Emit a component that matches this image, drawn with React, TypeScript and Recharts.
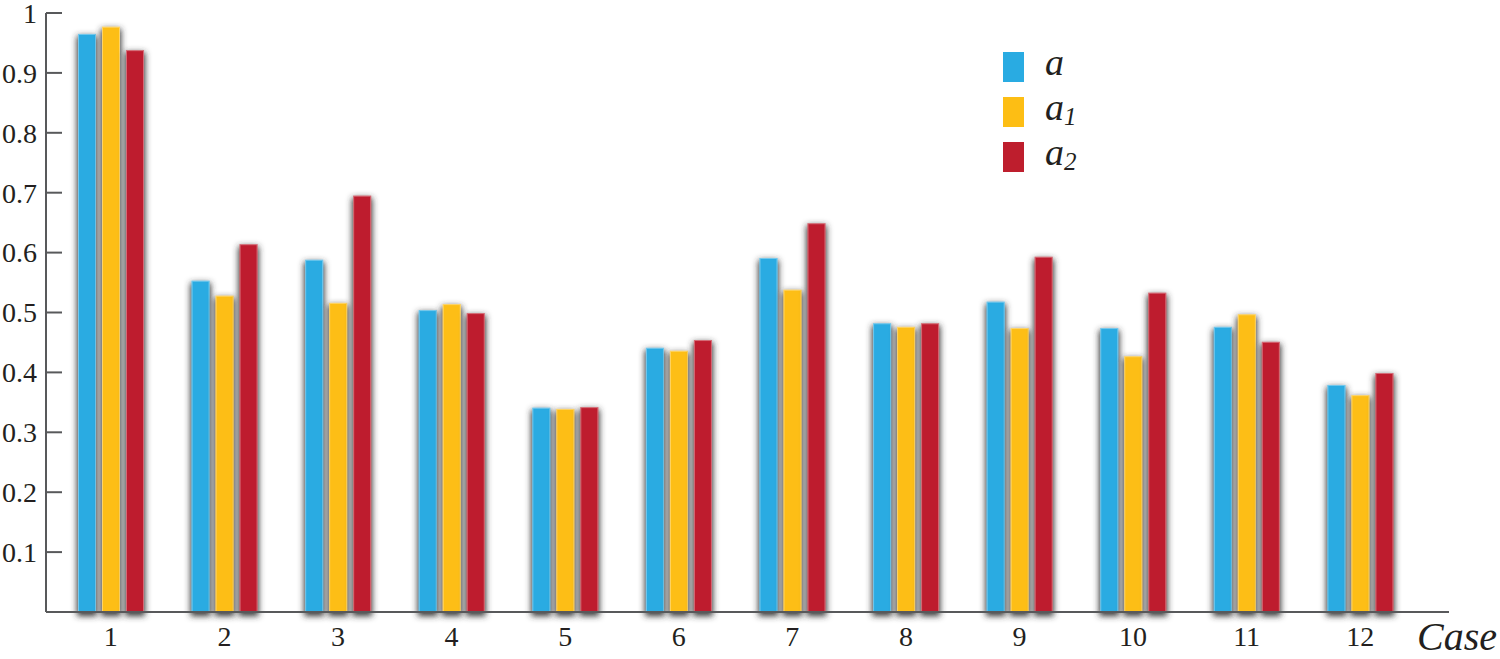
import React from 'react';
import { BarChart, Bar, XAxis, YAxis, Legend, Label } from 'recharts';

const cases = ['1', '2', '3', '4', '5', '6', '7', '8', '9', '10', '11', '12'];
const aValues = [0.965, 0.553, 0.588, 0.504, 0.341, 0.441, 0.591, 0.482, 0.518, 0.474, 0.476, 0.379];
const a1Values = [0.977, 0.528, 0.516, 0.514, 0.339, 0.436, 0.538, 0.476, 0.474, 0.427, 0.497, 0.362];
const a2Values = [0.938, 0.614, 0.695, 0.499, 0.342, 0.454, 0.649, 0.482, 0.593, 0.533, 0.451, 0.399];
const yTicks = [0.1, 0.2, 0.3, 0.4, 0.5, 0.6, 0.7, 0.8, 0.9, 1];

const seriesInfo = [
  { key: 'a', base: 'a', sub: '', color: '#29ABE2' },
  { key: 'a1', base: 'a', sub: '1', color: '#FDBE14' },
  { key: 'a2', base: 'a', sub: '2', color: '#BE1E2D' },
];

const data = cases.map((c, i) => ({ case: c, a: aValues[i], a1: a1Values[i], a2: a2Values[i] }));

const FRAME = '#58595b';
const SERIF = '"Liberation Serif", "Times New Roman", serif';

const ShadowBar = (props: any) => {
  const { x, y, width, height, fill } = props;
  if (!height || height <= 0) return null;
  return (
    <g>
      <rect x={x} y={y} width={width} height={height} fill={fill} filter="url(#barShadow)" />
      <rect x={x + 0.5} y={y + 0.5} width={width - 1} height={height - 1} fill="none" stroke="rgba(255,255,255,0.35)" strokeWidth={1} />
    </g>
  );
};

const LeftTick = (props: any) => {
  const { x, y, payload } = props;
  return (
    <g>
      <line x1={x} x2={x + 16} y1={y} y2={y} stroke={FRAME} strokeWidth={2} />
      <text x={x - 9} y={y} dy="0.35em" textAnchor="end" fontFamily={SERIF} fontSize={28} fill="#231f20">
        {payload.value}
      </text>
    </g>
  );
};

const RightTick = (props: any) => {
  const { x, y } = props;
  return <line x1={x - 16} x2={x} y1={y} y2={y} stroke={FRAME} strokeWidth={2} />;
};

const TopTick = (props: any) => {
  const { x, y, index } = props;
  if (index % 2 === 0) return null;
  return <line x1={x} x2={x} y1={y} y2={y + 16} stroke={FRAME} strokeWidth={2} />;
};

const BottomTick = (props: any) => {
  const { x, y, payload } = props;
  return (
    <text x={x} y={y + 34} textAnchor="middle" fontFamily={SERIF} fontSize={28} fill="#231f20">
      {payload.value}
    </text>
  );
};

const LegendContent = () => (
  <svg width={140} height={160} style={{ overflow: 'visible' }}>
    {seriesInfo.map((s, i) => (
      <g key={s.key}>
        <rect x={3} y={17 + i * 45} width={21} height={30} fill={s.color} />
        <text x={45} y={40 + i * 45} fontFamily={SERIF} fontStyle="italic" fontSize={38} fill="#231f20">
          {s.base}
          {s.sub ? (
            <tspan fontSize={25} dy={5}>
              {s.sub}
            </tspan>
          ) : null}
        </text>
      </g>
    ))}
  </svg>
);

const CaseLabel = (props: any) => {
  const vb = props.viewBox || {};
  return (
    <text
      x={vb.x + vb.width + 48}
      y={650}
      textAnchor="end"
      fontFamily={SERIF}
      fontStyle="italic"
      fontSize={40}
      fill="#231f20"
    >
      Case
    </text>
  );
};

export default function App() {
  return (
    <div style={{ position: 'absolute', left: 0, top: 0, width: 1500, height: 659, background: '#fff' }}>
      <svg width={0} height={0} style={{ position: 'absolute' }}>
        <defs>
          <filter id="barShadow" x="-80%" y="-10%" width="260%" height="125%">
            <feMorphology in="SourceAlpha" operator="dilate" radius="1" result="grown" />
            <feGaussianBlur in="grown" stdDeviation="3" result="blur" />
            <feOffset in="blur" dx="-0.5" dy="3" result="off" />
            <feFlood floodColor="#333333" floodOpacity="1" />
            <feComposite in2="off" operator="in" result="shadow" />
            <feMerge>
              <feMergeNode in="shadow" />
              <feMergeNode in="SourceGraphic" />
            </feMerge>
          </filter>
        </defs>
      </svg>
      <BarChart
        width={1500}
        height={659}
        data={data}
        margin={{ top: 13, right: 51, bottom: 17, left: 0 }}
        barSize={18}
        barGap={6}
      >
        <XAxis
          dataKey="case"
          xAxisId={0}
          height={30}
          padding={{ left: 8, right: 32 }}
          axisLine={{ stroke: FRAME, strokeWidth: 2 }}
          tickLine={false}
          tickSize={0}
          tickMargin={0}
          interval={0}
          tick={<BottomTick />}
        >
          <Label content={<CaseLabel />} />
        </XAxis>
        <XAxis
          dataKey="case"
          xAxisId="top"
          orientation="top"
          height={0}
          padding={{ left: 8, right: 32 }}
          axisLine={{ stroke: FRAME, strokeWidth: 2 }}
          tickLine={false}
          tickSize={0}
          tickMargin={0}
          interval={0}
          tick={<TopTick />}
        />
        <YAxis
          yAxisId={0}
          width={46}
          domain={[0, 1]}
          ticks={yTicks}
          interval={0}
          axisLine={{ stroke: FRAME, strokeWidth: 2 }}
          tickLine={false}
          tickSize={0}
          tickMargin={0}
          tick={<LeftTick />}
        />
        <YAxis
          yAxisId="right"
          orientation="right"
          width={0}
          domain={[0, 1]}
          ticks={yTicks}
          interval={0}
          axisLine={{ stroke: FRAME, strokeWidth: 2 }}
          tickLine={false}
          tickSize={0}
          tickMargin={0}
          tick={<RightTick />}
        />
        <Legend
          layout="vertical"
          align="center"
          verticalAlign="middle"
          content={<LegendContent />}
          wrapperStyle={{ position: 'absolute', left: 1000, top: 35, width: 140, height: 160 }}
        />
        {seriesInfo.map((s) => (
          <Bar
            key={s.key}
            dataKey={s.key}
            name={s.key}
            fill={s.color}
            xAxisId={0}
            yAxisId={0}
            shape={<ShadowBar />}
            isAnimationActive={false}
          />
        ))}
      </BarChart>
    </div>
  );
}
